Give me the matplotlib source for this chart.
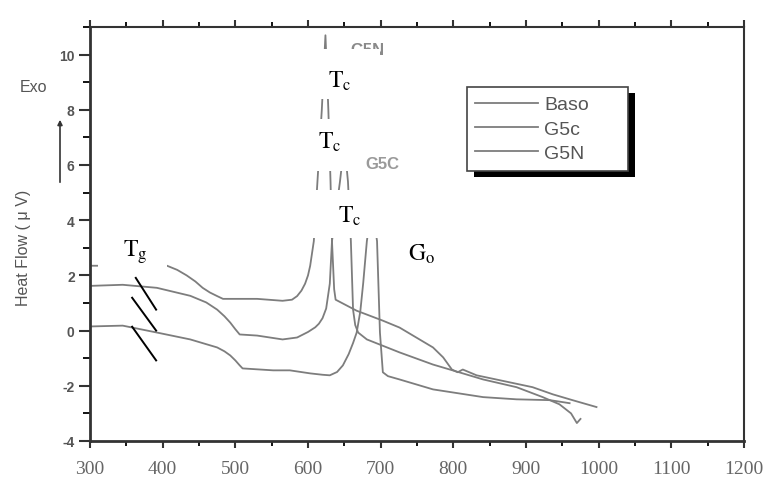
import numpy as np
import matplotlib.pyplot as plt
from matplotlib.patches import Rectangle
from matplotlib.lines import Line2D
from matplotlib.ticker import MultipleLocator

plt.rcParams['mathtext.fontset'] = 'stix'
plt.rcParams['font.family'] = ['Liberation Sans', 'DejaVu Sans']
plt.rcParams['axes.unicode_minus'] = False

# temperature (C) / heat flow (uV)
baso_t = [300, 345, 392, 438, 475, 485, 493, 500, 506, 510, 552, 575, 603, 620, 630,
          640, 648, 656, 662, 667, 672, 676, 681, 688, 695, 699, 703, 710, 726, 772,
          841, 887, 933, 960]
baso_q = [0.15, 0.18, -0.07, -0.32, -0.61, -0.75, -0.9, -1.08, -1.26, -1.37, -1.44,
          -1.44, -1.55, -1.6, -1.62, -1.5, -1.26, -0.85, -0.45, -0.07, 0.7, 1.73,
          3.24, 4.6, 3.24, -0.07, -1.51, -1.65, -1.77, -2.13, -2.41, -2.49, -2.52,
          -2.63]

g5c_t = [300, 345, 392, 438, 460, 475, 485, 493, 500, 506, 530, 565, 585, 600, 610,
         615, 620, 625, 630, 633, 644, 650, 655, 659, 662, 665, 669, 681, 726, 772,
         799, 841, 887, 923, 946, 962, 970, 975]
g5c_q = [1.62, 1.66, 1.55, 1.26, 1.02, 0.76, 0.52, 0.29, 0.05, -0.14, -0.18, -0.32,
         -0.25, -0.05, 0.12, 0.25, 0.45, 0.8, 1.7, 3.24, 5.4, 6.8, 5.4, 3.24, 0.76,
         0.2, -0.07, -0.32, -0.79, -1.23, -1.44, -1.77, -2.05, -2.41, -2.67, -3.0,
         -3.35, -3.2]

g5n_t = [300, 406, 420, 433, 445, 455, 465, 475, 483, 530, 565, 578, 585, 591, 596,
         600, 603, 608, 613, 619, 624, 628, 631, 633, 636, 638, 667, 703, 726, 772,
         786, 798, 806, 813, 832, 909, 937, 964, 997]
g5n_q = [2.35, 2.35, 2.2, 2.0, 1.78, 1.55, 1.38, 1.25, 1.15, 1.15, 1.08, 1.12, 1.25,
         1.45, 1.7, 2.0, 2.35, 3.24, 5.4, 8.0, 10.7, 8.0, 5.4, 3.24, 1.5, 1.12, 0.72,
         0.36, 0.11, -0.61, -0.97, -1.41, -1.51, -1.41, -1.62, -2.05, -2.31, -2.52,
         -2.77]

legend_labels = ['Baso', 'G5c', 'G5N']
x_ticks = list(range(300, 1201, 100))
y_ticks = list(range(-4, 11, 2))

curve_col = '#7d7d7d'
text_col = '#555555'

fig = plt.figure(figsize=(7.68, 4.81), dpi=100)
ax = fig.add_axes([90 / 768, 1 - 442 / 481, 654 / 768, 414 / 481])

ax.plot(baso_t, baso_q, color=curve_col, lw=1.3, zorder=2)
ax.plot(g5c_t, g5c_q, color=curve_col, lw=1.3, zorder=2)
ax.plot(g5n_t, g5n_q, color=curve_col, lw=1.3, zorder=2)

ax.set_xlim(300, 1200)
ax.set_ylim(-4, 11)

# peak labels from the original scan, partly covered by the pasted boxes
ax.text(682, 10.17, 'G5N', color='#8a8a8a', fontsize=12, fontweight='bold',
        ha='center', va='center', zorder=2.5)
ax.text(703, 6.05, 'G5C', color='#9a9a9a', fontsize=12, fontweight='bold',
        ha='center', va='center', zorder=2.5)

# white patches pasted over the scan
masks = [(607, 8.4, 92, 1.8), (596, 5.8, 75, 1.88), (605, 3.35, 125, 1.73),
         (726, 2.45, 83, 1.55), (311, 2.27, 95, 1.37)]
for x0, y0, w, h in masks:
    ax.add_patch(Rectangle((x0, y0), w, h, facecolor='white', edgecolor='none', zorder=3))

# Tg markers
for (xa, ya), (xb, yb) in [((363, 1.91), (391, 0.76)),
                           ((358, 1.19), (391, 0.0)),
                           ((358, 0.14), (391, -1.08))]:
    ax.plot([xa, xb], [ya, yb], color='black', lw=1.4, zorder=4)

ann = dict(fontsize=17, ha='center', va='center', zorder=4, color='black')
ax.text(644, 9.05, r'$\mathrm{T_c}$', **ann)
ax.text(630, 6.85, r'$\mathrm{T_c}$', **ann)
ax.text(658, 4.18, r'$\mathrm{T_c}$', **ann)
ax.text(362, 2.88, r'$\mathrm{T_g}$', **ann)
ax.text(757, 2.81, r'$\mathrm{G_o}$', **ann)

# axes styling
for side, lw in [('left', 2.0), ('bottom', 2.0), ('top', 1.5), ('right', 1.5)]:
    ax.spines[side].set_linewidth(lw)
    ax.spines[side].set_color('#333333')

ax.set_xticks(x_ticks)
ax.set_yticks(y_ticks)
ax.xaxis.set_minor_locator(MultipleLocator(50))
ax.yaxis.set_minor_locator(MultipleLocator(1))
ax.tick_params(axis='x', which='major', direction='out', length=5, width=1.5,
               top=True, labeltop=False, pad=9, colors='#333333')
ax.tick_params(axis='x', which='minor', direction='out', length=3.5, width=1.3, top=True)
ax.tick_params(axis='y', which='major', direction='out', length=8, width=1.5,
               right=False, pad=3, colors='#333333')
ax.tick_params(axis='y', which='minor', direction='out', length=5, width=1.3, right=False)
for lab in ax.get_xticklabels():
    lab.set_fontfamily('Liberation Serif')
    lab.set_fontsize(14)
    lab.set_color('#666666')
for lab in ax.get_yticklabels():
    lab.set_fontsize(10)
    lab.set_fontweight('bold')
    lab.set_color('#555555')

fig.text(0.031, 1 - 248 / 481, 'Heat Flow ( \u03bc V)', rotation=90, ha='center',
         va='center', fontsize=11.5, color=text_col)
fig.text(0.044, 1 - 88 / 481, 'Exo', ha='center', va='center', fontsize=11.5,
         color=text_col)
ax.annotate('', xy=(60 / 768, 1 - 118 / 481), xycoords='figure fraction',
            xytext=(60 / 768, 1 - 186 / 481), textcoords='figure fraction',
            arrowprops=dict(arrowstyle='-|>', color='#333333', lw=1.2,
                            mutation_scale=7))

# legend with a hard black drop shadow
handles = [Line2D([], [], color=curve_col, lw=1.3) for _ in legend_labels]
leg = ax.legend(handles, legend_labels, loc='upper left', mode='expand',
                bbox_to_anchor=(0.576, 0.5, 0.246, 0.355), borderaxespad=0,
                fancybox=False, framealpha=1, edgecolor='#444444', fontsize=14,
                handlelength=3.2, handletextpad=0.35, labelspacing=0.35, borderpad=0.45)
leg.get_frame().set_linewidth(1.2)
for t in leg.get_texts():
    t.set_color(text_col)
leg.set_zorder(6)

fig.canvas.draw()
bb = leg.get_window_extent().transformed(ax.transAxes.inverted())
dx = 7 / 654
dy = 6 / 414
ax.add_patch(Rectangle((bb.x0 + dx, bb.y0 - dy), bb.width, bb.height,
                       transform=ax.transAxes, facecolor='black', edgecolor='none',
                       clip_on=False, zorder=5))

fig.savefig('out.png', dpi=100)
